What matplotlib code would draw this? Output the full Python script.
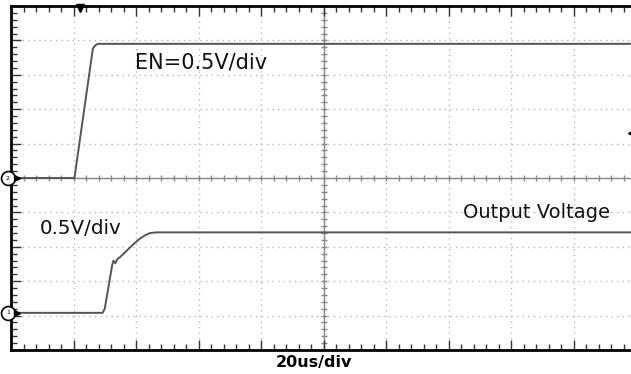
import numpy as np
import matplotlib.pyplot as plt

# scope settings
time_per_div = 20      # us/div
en_volts_per_div = 0.5
out_volts_per_div = 0.5
en_offset_div = 0.0
out_offset_div = -3.92

# EN trace (channel 2)
en_time = [0, 20.3, 26.2, 27.0, 27.8, 200]
en_volts = [0, 0, 1.88, 1.93, 1.95, 1.95]

# output voltage trace (channel 1)
out_time = [0, 29.3, 30.0, 32.4, 32.8, 33.4, 34.0, 34.9, 36.5, 38.1, 39.7, 41.3, 43.0, 44.5, 46.7, 200]
out_volts = [0, 0, 0.06, 0.70, 0.76, 0.72, 0.78, 0.81, 0.88, 0.95, 1.02, 1.08, 1.13, 1.16, 1.17, 1.17]

en_div = np.array(en_volts) / en_volts_per_div + en_offset_div
out_div = np.array(out_volts) / out_volts_per_div + out_offset_div

fig = plt.figure(figsize=(6.31, 3.74), dpi=100)
ax = fig.add_axes([11 / 631, 24 / 374, 625 / 631, 344 / 374])
x_max = 10 * time_per_div
ax.set_xlim(0, x_max)
ax.set_ylim(-5, 5)

# graticule
grid_color = '#b8b8b8'
for i in range(1, 10):
    ax.axvline(i * time_per_div, color=grid_color, lw=1, ls=(0, (1, 3)), zorder=1)
    ax.axhline(i - 5, color=grid_color, lw=1, ls=(0, (1, 3)), zorder=1)
ax.axvline(x_max / 2, color='#888888', lw=1, zorder=1)
ax.axhline(0, color='#888888', lw=1, zorder=1)

# ticks on the center crosshair
minor_x = np.arange(0, x_max + 0.1, time_per_div / 5)
minor_y = np.arange(-5, 5.01, 0.2)
ax.plot(minor_x, np.zeros_like(minor_x), ls='none', marker='|', ms=5, color='#888888', mew=1, zorder=1)
ax.plot(np.full_like(minor_y, x_max / 2), minor_y, ls='none', marker='_', ms=5, color='#888888', mew=1, zorder=1)

# traces
ax.plot(en_time, en_div, color='#555555', lw=1.4, zorder=3)
ax.plot(out_time, out_div, color='#555555', lw=1.4, zorder=3)

# border ticks
ax.set_xticks(np.arange(0, x_max + 1, time_per_div))
ax.set_xticks(minor_x, minor=True)
ax.set_yticks(np.arange(-5, 6, 1))
ax.set_yticks(minor_y, minor=True)
ax.tick_params(which='both', direction='in', top=True, right=False, labelleft=False, labelbottom=False, color='#333333')
ax.tick_params(which='major', length=7, width=1)
ax.tick_params(which='minor', length=4, width=1)
for side in ['left', 'top', 'bottom']:
    ax.spines[side].set_linewidth(2)
ax.spines['right'].set_visible(False)

# channel markers
for lvl, lab in [(en_offset_div, '2'), (out_offset_div, '1')]:
    ax.plot([-1.0], [lvl], marker='o', ms=10, mfc='white', mec='black', mew=1.2, clip_on=False, zorder=5)
    ax.text(-1.0, lvl, lab, fontsize=4.5, ha='center', va='center', clip_on=False, zorder=6)
    ax.plot([1.8], [lvl], marker='>', ms=4, color='black', clip_on=False, zorder=5)

# trigger markers
ax.plot([22], [4.95], marker='v', ms=6, color='black', clip_on=False, zorder=5)
ax.plot([198.5], [1.30], marker='<', ms=4, color='black', clip_on=False, zorder=5)

font = 'DejaVu Sans'
ax.text(39.7, 3.37, 'EN=0.5V/div', fontsize=15, family=font, va='center', ha='left', color='#111111')
ax.text(9.3, -1.48, '0.5V/div', fontsize=14.3, family=font, va='center', ha='left', color='#111111')
ax.text(144.6, -0.99, 'Output Voltage', fontsize=14, family=font, va='center', ha='left', color='#111111')
fig.text(314 / 631, 1 - 362 / 374, '20us/div', fontsize=11.5, family=font, weight='bold', ha='center', va='center')

fig.savefig('out.png', dpi=100)
